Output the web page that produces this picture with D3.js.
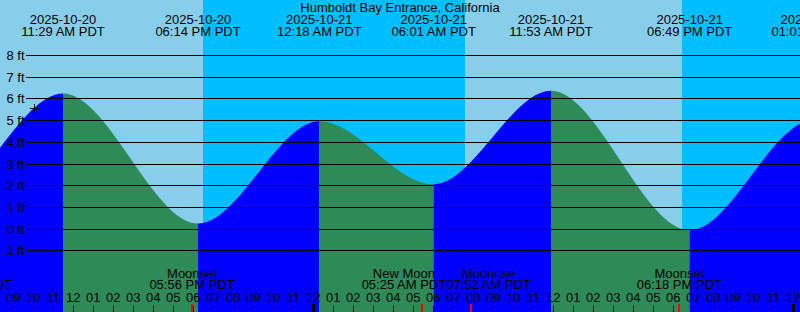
<!DOCTYPE html>
<html>
<head>
<meta charset="utf-8">
<script src="https://cdn.jsdelivr.net/npm/d3@7"></script>
<style>
body { margin: 0; background: #fff; }
svg { display: block; font-family: "Liberation Sans", Arial, sans-serif; font-size: 13px; }
</style>
</head>
<body>
<svg id="chart" width="800" height="312"></svg>
<script>

let title = "Humboldt Bay Entrance, California"

// tide extremes, local time (PDT), height in ft
let tide_times = ["2025-10-19 23:40", "2025-10-20 05:15", "2025-10-20 11:29", "2025-10-20 18:14", "2025-10-21 00:18", "2025-10-21 06:01", "2025-10-21 11:53", "2025-10-21 18:49", "2025-10-22 01:01", "2025-10-22 06:50"]
let tide_ft = [4.9, 1.3, 6.23, 0.23, 4.95, 2.04, 6.35, -0.08, 5.0, 2.1]

let sun_times = ["2025-10-20 07:34", "2025-10-20 18:29", "2025-10-21 07:35", "2025-10-21 18:26"]
let sun_types = ["rise", "set", "rise", "set"]

let moon_times = ["2025-10-20 06:49", "2025-10-20 17:56", "2025-10-21 05:25", "2025-10-21 07:52", "2025-10-21 18:18"]
let moon_names = ["Moonrise", "Moonset", "New Moon", "Moonrise", "Moonset"]

let ft_ticks = [-1, 0, 1, 2, 3, 4, 5, 6, 7, 8]

let now_time = "2025-10-20 10:03"
let now_ft = 5.55

let view_start = "2025-10-20 08:20"
let view_end = "2025-10-22 00:20"


let W = 800, H = 312
let parse = d3.utcParse("%Y-%m-%d %H:%M")
let fmtDate = d3.utcFormat("%Y-%m-%d")
let fmtTime = d3.utcFormat("%I:%M %p PDT")
let fmtHour = d3.utcFormat("%I")

let tides = tide_times.map((t, i) => ({date: parse(t), ft: tide_ft[i]}))
let suns = sun_times.map((t, i) => ({date: parse(t), type: sun_types[i]}))
let moons = moon_times.map((t, i) => ({date: parse(t), name: moon_names[i]}))

let x = d3.scaleUtc()
.domain([parse(view_start), parse(view_end)])
.range([0, W])

let y = d3.scaleLinear()
.domain([-1, 8])
.range([250.3, 55])

let svg = d3.select("#chart")
let defs = svg.append("defs")


// day / night
svg.append("rect")
.attr("width", W).attr("height", H)
.attr("fill", "#87CEEB")

suns.forEach((s, i) => {
  if (s.type != "set") return
  let next = suns[i + 1] ? suns[i + 1].date : x.domain()[1]
  svg.append("rect")
  .attr("x", x(s.date))
  .attr("y", 0)
  .attr("width", x(next) - x(s.date))
  .attr("height", H)
  .attr("fill", "#00BFFF")
})


// water, coloured by rising / falling
let area = d3.area()
.x(d => x(d.date))
.y0(H)
.y1(d => y(d.ft))
.curve(d3.curveMonotoneX)

defs.append("clipPath")
.attr("id", "water")
.append("path")
.attr("d", area(tides))

let water = svg.append("g").attr("clip-path", "url(#water)")

d3.pairs(tides).forEach(([a, b]) => {
  water.append("rect")
  .attr("x", x(a.date))
  .attr("y", 0)
  .attr("width", x(b.date) - x(a.date))
  .attr("height", H)
  .attr("fill", b.ft > a.ft ? "#0000FF" : "#2E8B57")
})


// grid lines + ft labels
svg.append("g")
.selectAll("line")
.data(ft_ticks)
.join("line")
.attr("x1", 26)
.attr("x2", W)
.attr("y1", d => Math.round(y(d)) + 0.5)
.attr("y2", d => Math.round(y(d)) + 0.5)
.attr("stroke", "black")
.attr("shape-rendering", "crispEdges")

svg.append("g")
.selectAll("text")
.data(ft_ticks)
.join("text")
.attr("x", 24.5)
.attr("y", d => Math.round(y(d)) + 0.5)
.attr("dy", "0.35em")
.attr("text-anchor", "end")
.text(d => d + " ft")


// current time mark
let nx = Math.round(x(parse(now_time))) + 0.5
let ny = Math.round(y(now_ft)) + 0.5
svg.append("path")
.attr("d", `M${nx - 4.5},${ny}H${nx + 4.5}M${nx},${ny - 4.5}V${ny + 4.5}`)
.attr("stroke", "black")
.attr("shape-rendering", "crispEdges")


// header: tide extremes
let head = svg.append("g")
.selectAll("g")
.data(tides.filter(d => x(d.date) > -45 && x(d.date) < W + 45))
.join("g")
.attr("transform", d => `translate(${x(d.date)},0)`)

head.append("text")
.attr("y", 24)
.attr("text-anchor", "middle")
.text(d => fmtDate(d.date))

head.append("text")
.attr("y", 36)
.attr("text-anchor", "middle")
.text(d => fmtTime(d.date))

svg.append("text")
.attr("x", W / 2)
.attr("y", 12)
.attr("text-anchor", "middle")
.text(title)


// moon labels, pushed apart when they overlap
let moonG = svg.append("g")
.selectAll("g")
.data(moons)
.join("g")

moonG.append("text")
.attr("class", "mname")
.attr("y", 278)
.attr("text-anchor", "middle")
.text(d => d.name)

moonG.append("text")
.attr("class", "mtime")
.attr("y", 289)
.attr("text-anchor", "middle")
.text(d => fmtTime(d.date))

moonG.each(function(d) {
  let w1 = d3.select(this).select(".mname").node().getComputedTextLength()
  let w2 = d3.select(this).select(".mtime").node().getComputedTextLength()
  d.w = Math.max(w1, w2)
  d.cx = x(d.date)
})

for (let k = 0; k < 10; k++) {
  d3.pairs(moons).forEach(([a, b]) => {
    let gap = (b.cx - b.w / 2) - (a.cx + a.w / 2)
    if (gap < 0) {
      a.cx += gap / 2
      b.cx -= gap / 2
    }
  })
}

moonG.attr("transform", d => `translate(${d.cx},0)`)


// hour labels and ticks
let hours = d3.utcHour.range(x.domain()[0], x.domain()[1])

svg.append("g")
.selectAll("text")
.data(hours)
.join("text")
.attr("x", d => x(d))
.attr("y", 302)
.attr("text-anchor", "middle")
.text(d => fmtHour(d))

svg.append("g")
.selectAll("rect")
.data(hours)
.join("rect")
.attr("x", d => d.getUTCHours() == 0 ? Math.round(x(d)) - 1 : Math.round(x(d)))
.attr("y", d => d.getUTCHours() == 0 ? 304 : 306)
.attr("width", d => d.getUTCHours() == 0 ? 3 : 1)
.attr("height", d => d.getUTCHours() == 0 ? 8 : 6)
.attr("fill", "black")

svg.append("g")
.selectAll("rect")
.data(moons)
.join("rect")
.attr("x", d => Math.round(x(d.date)) - 1)
.attr("y", 304)
.attr("width", 2)
.attr("height", 8)
.attr("fill", "red")

</script>
</body>
</html>
